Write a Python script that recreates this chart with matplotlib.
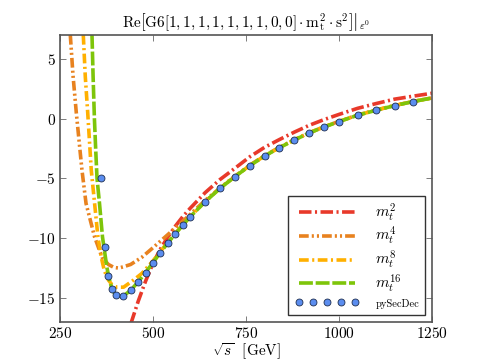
import numpy as np
import matplotlib
matplotlib.use('Agg')
import matplotlib.pyplot as plt

plt.rcParams['mathtext.fontset'] = 'cm'
plt.rcParams['font.family'] = 'serif'
plt.rcParams['font.serif'] = ['cmr10', 'DejaVu Serif']
plt.rcParams['axes.formatter.use_mathtext'] = True
plt.rcParams['lines.scale_dashes'] = False

# expansion in m_t^2
m2_x = [440, 460, 480, 500, 520, 540, 560, 580, 600, 640, 680, 720, 760, 800,
        840, 880, 920, 960, 1000, 1050, 1100, 1150, 1200, 1250]
m2_y = [-17.2, -15.3, -13.6, -12.1, -10.9, -9.9, -9.0, -8.2, -7.5, -6.2, -5.1, -4.16, -3.2, -2.4,
        -1.75, -1.13, -0.56, -0.08, 0.35, 0.86, 1.26, 1.63, 1.88, 2.12]

# expansion in m_t^4
m4_x = [277.7, 285, 293.8, 309, 320, 343, 363, 380, 395, 407.6, 420, 440, 470, 500, 540, 590,
        640, 700, 760, 800, 840, 880, 920, 960, 1000, 1050, 1100, 1150, 1200, 1250]
m4_y = [7, 3.6, 0.5, -4.3, -7.1, -9.9, -11.6, -12.2, -12.45, -12.5, -12.4, -12.2, -11.6, -10.8, -9.7, -8.3,
        -6.85, -5.3, -3.9, -3.1, -2.4, -1.77, -1.18, -0.68, -0.23, 0.3, 0.72, 1.1, 1.44, 1.73]

# expansion in m_t^8
m8_x = [312.6, 318, 324.5, 334, 343, 352, 361, 369, 380, 390, 403, 421, 448, 470, 500, 540, 580,
        600, 640, 680, 720, 760, 800, 840, 880, 920, 960, 1000, 1050, 1100, 1150, 1200, 1250]
m8_y = [7, 3.5, 0.5, -4.3, -7.1, -9.9, -11.6, -12.7, -13.5, -13.9, -14.1, -14.1, -13.5, -12.95, -11.9, -10.33, -8.88,
        -8.19, -6.94, -5.83, -4.85, -3.93, -3.12, -2.42, -1.78, -1.19, -0.69, -0.24, 0.29, 0.71, 1.1, 1.44, 1.73]

# expansion in m_t^16
m16_x = [336, 339, 342.5, 346, 349.5, 356.2, 364.2, 368.3, 375.8, 380.9, 389.8, 400, 410, 420, 440, 460,
         480, 500, 520, 540, 560, 580, 600, 640, 680, 720, 760, 800, 840, 880, 920, 960, 1000, 1050,
         1100, 1150, 1200, 1250]
m16_y = [7, 3.5, 0, -2.6, -5.0, -7.1, -9.9, -10.78, -12.4, -13.2, -14.3, -14.75, -14.9, -14.85, -14.36, -13.66,
         -12.88, -12.04, -11.2, -10.39, -9.64, -8.91, -8.21, -6.96, -5.84, -4.86, -3.94, -3.13, -2.43, -1.79,
         -1.20, -0.70, -0.25, 0.28, 0.70, 1.09, 1.43, 1.72]

# pySecDec numerical points
psd_x = [360, 370, 380, 390, 400, 420, 440, 460, 480, 500, 520, 540, 560, 580, 600, 640, 680, 720,
         760, 800, 840, 880, 920, 960, 1000, 1050, 1100, 1150, 1200]
psd_y = [-5.0, -10.78, -13.16, -14.25, -14.78, -14.84, -14.36, -13.66, -12.88, -12.04, -11.2, -10.39,
         -9.64, -8.91, -8.21, -6.96, -5.84, -4.86, -3.94, -3.13, -2.43, -1.79, -1.20, -0.70, -0.25,
         0.28, 0.70, 1.09, 1.43]

fig, ax = plt.subplots(figsize=(4.8, 3.6), dpi=100)
fig.subplots_adjust(left=0.125, right=0.9, bottom=0.106, top=0.903)

lw = 2.6
ax.plot(m2_x, m2_y, color='#e8392a', lw=lw, dashes=[9, 2.5, 1.5, 2.5], label=r'$m_t^2$')
ax.plot(m4_x, m4_y, color='#e8821f', lw=lw, dashes=[7, 2.2, 1.5, 2.2, 1.5, 2.2], label=r'$m_t^4$')
ax.plot(m8_x, m8_y, color='#ffb000', lw=lw, dashes=[7, 2.5, 1.5, 2.5], label=r'$m_t^8$')
ax.plot(m16_x, m16_y, color='#7ec50a', lw=lw, dashes=[10, 2], label=r'$m_t^{16}$')
ax.plot(psd_x, psd_y, 'o', color='#5b8def', markeredgecolor='#1f2f4f', markeredgewidth=0.6,
        markersize=5, label='pySecDec')

ax.set_xlim(250, 1250)
ax.set_ylim(-17, 7)
ax.set_xticks([250, 500, 750, 1000, 1250])
ax.set_yticks([-15, -10, -5, 0, 5])
ax.tick_params(direction='in', top=True, right=True, labelsize=11, length=4, width=0.6,
               color='#666666', pad=3)
for s in ax.spines.values():
    s.set_color('#555555')
    s.set_linewidth(1.2)

ax.set_title(r'$\mathrm{Re}\left.\left[\mathrm{G6}\left[1,1,1,1,1,1,1,0,0\right]\cdot\mathrm{m_t^2}\cdot\mathrm{s^2}\right]\right|_{\varepsilon^0}$',
             fontsize=11)
ax.set_xlabel(r'$\sqrt{s}\ \ [\mathrm{GeV}]$', fontsize=11, labelpad=0)

leg = ax.legend(loc='lower right', fontsize=11, handlelength=4.3, handletextpad=1.0, numpoints=5,
                fancybox=False, framealpha=1, edgecolor='#333333', borderpad=0.4,
                labelspacing=0.1, borderaxespad=0.45)
leg.get_frame().set_linewidth(1.0)
leg.get_texts()[-1].set_fontsize(7.5)

plt.savefig('out.png', dpi=100)
